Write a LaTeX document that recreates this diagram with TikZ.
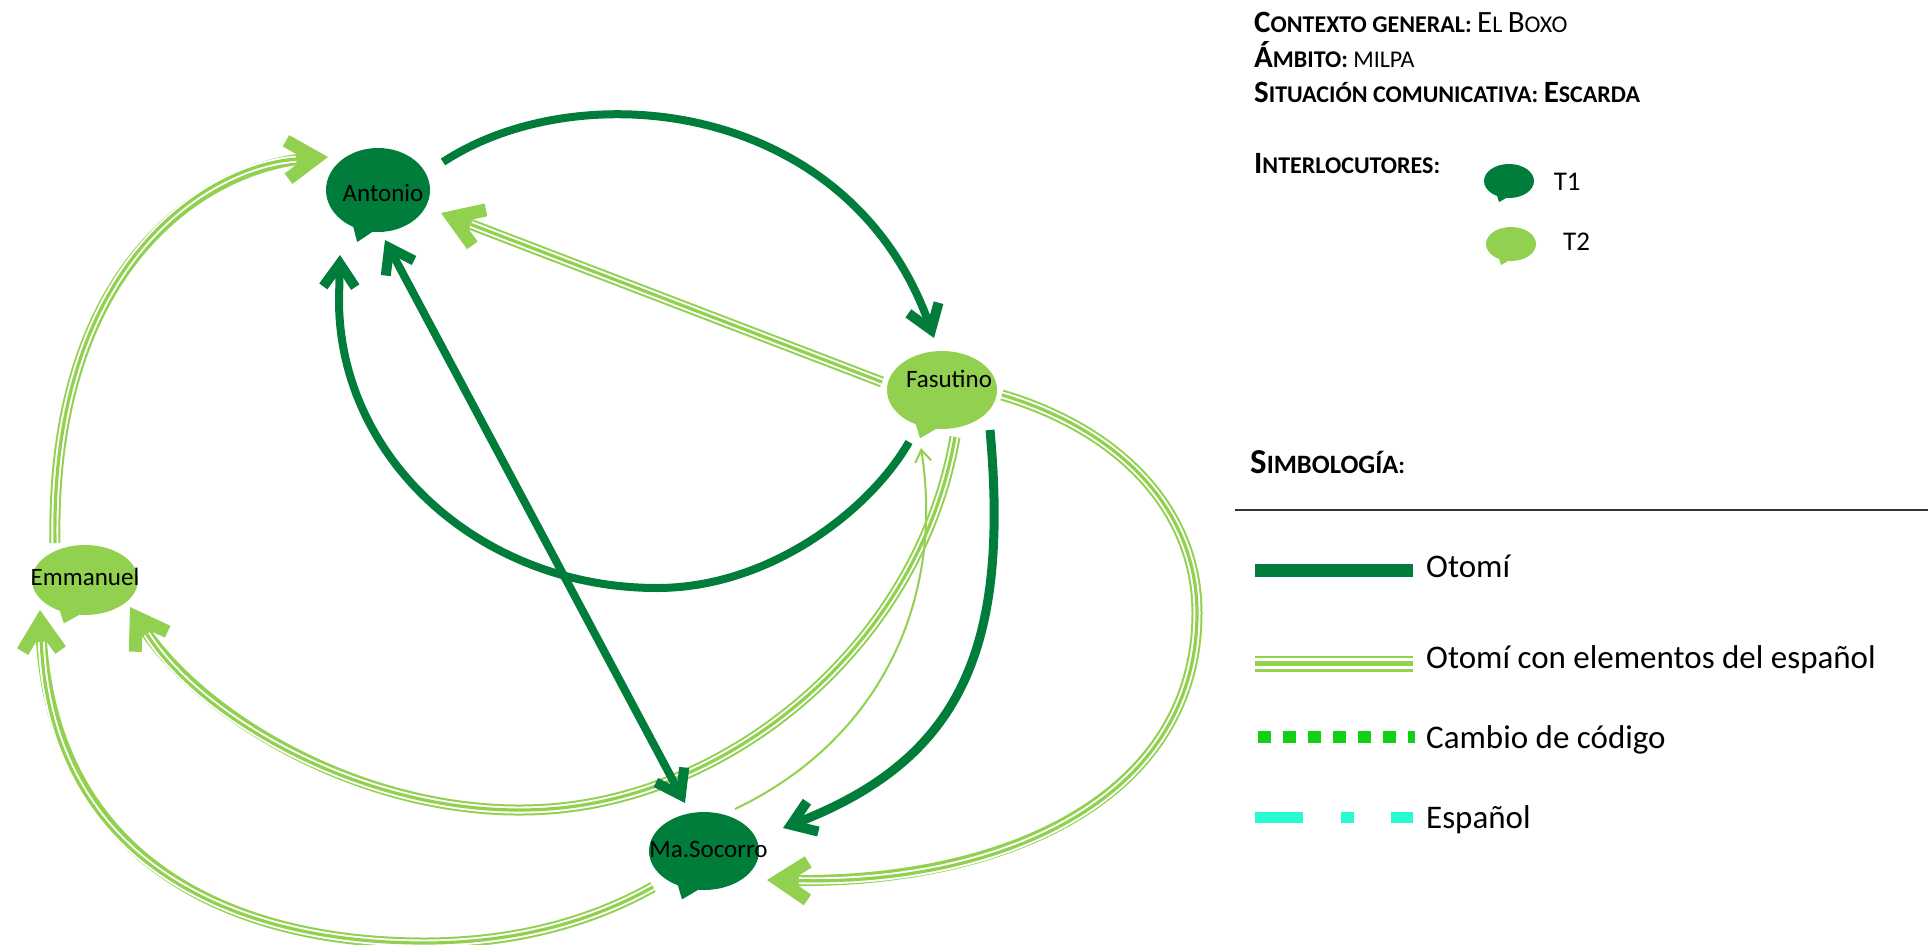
\documentclass[tikz,border=0pt]{standalone}
\usepackage{fontspec}
\setmainfont{Carlito}
\usetikzlibrary{arrows.meta,shapes.geometric,calc}

\definecolor{dkg}{RGB}{0,125,58}
\definecolor{lgr}{RGB}{146,208,80}
\definecolor{cgreen}{RGB}{20,208,20}
\definecolor{cyanesp}{RGB}{40,250,210}

% small-caps headings: large initial, reduced capitals
\newcommand\Hd[2]{{\fontsize{31pt}{36pt}\selectfont#1}{\fontsize{24pt}{36pt}\selectfont#2}}
\newcommand\Hs[2]{{\fontsize{35pt}{40pt}\selectfont#1}{\fontsize{26.5pt}{40pt}\selectfont#2}}

% speech bubble: tail triangle + filled ellipse node
\newcommand\bubble[6]{%
  \fill[#6] (#2-0.48*#4,#3+0.86*#5) -- (#2-0.40*#4,#3+1.24*#5) -- (#2-0.10*#4,#3+0.99*#5) -- cycle;
  \node[bub, fill=#6, minimum width=2*#4, minimum height=2*#5] (#1) at (#2,#3) {};
}

\tikzset{
  bub/.style={ellipse, inner sep=0pt, draw=none},
  lbl/.style={anchor=base, inner sep=0pt, font=\fontsize{25pt}{30pt}\selectfont},
  hd/.style={anchor=base west, inner sep=0pt, font=\bfseries\fontsize{24pt}{36pt}\selectfont},
  leg/.style={anchor=base west, inner sep=0pt, font=\fontsize{33pt}{38pt}\selectfont},
  tl/.style={anchor=base west, inner sep=0pt, font=\fontsize{27pt}{32pt}\selectfont},
  dtip/.tip={Straight Barb[length=23pt,width=32pt,line width=10pt]},
  ltip/.tip={Straight Barb[length=29pt,width=38pt,line width=13pt]},
  otomi/.style={draw=dkg, line width=8pt, -dtip},
  triple/.style={draw=lgr, line width=11pt, -ltip,
    postaction={draw=white, line width=7pt, arrows=-, shorten >=32pt},
    postaction={draw=lgr, line width=3.2pt, arrows=-, shorten >=32pt}},
  thinlg/.style={draw=lgr, line width=2pt, -{Straight Barb[length=12pt,width=16pt]}},
}

\begin{document}
\begin{tikzpicture}[x=1pt,y=-1pt]
\useasboundingbox (0,0) rectangle (1928,945);
\fill[white] (0,0) rectangle (1928,945);

% interlocutors
\bubble{anto}{378}{190}{52}{42}{dkg}
\bubble{fasu}{942}{390}{55}{39}{lgr}
\bubble{emma}{85}{580}{53}{35}{lgr}
\bubble{soco}{704}{851}{55}{39}{dkg}

\node[lbl] (antoT) at (383,201) {Antonio};
\node[lbl] (fasuT) at (949,387) {Fasutino};
\node[lbl] (emmaT) at (85,585) {Emmanuel};
\node[lbl] (socoT) at (708.5,857) {Ma.Socorro};

% exchanges
\draw[otomi] ($(anto)+(65,-28)$) .. controls (580,72) and (850,100) .. ($(fasu)+(-8,-52)$);
\draw[triple] ($(fasu)+(-60,-8)$) -- ($(anto)+(63,23)$);
\draw[triple] ($(emma)+(-30,-37)$) .. controls (50,260) and (210,165) .. ($(anto)+(-50,-33)$);
\draw[triple] ($(fasu)+(13,47)$) .. controls (920,640) and (740,790) .. (560,808)
   .. controls (380,826) and (200,720) .. ($(emma)+(45,27)$);
\draw[triple] ($(soco)+(-51,36)$) .. controls (580,928) and (500,943) .. (424,943)
   .. controls (230,943) and (50,860) .. ($(emma)+(-45,30)$);
\draw[triple] ($(fasu)+(60,5)$) .. controls (1120,430) and (1197,510) .. (1197,613)
   .. controls (1197,800) and (1000,885) .. ($(soco)+(63,29)$);
\draw[otomi] ($(fasu)+(-33,52)$) .. controls (870,510) and (770,588) .. (657,588)
   .. controls (481,588) and (339,459) .. (339,300) -- ($(anto)+(-38,65)$);
\draw[otomi, dtip-dtip] ($(anto)+(7,50)$) -- ($(soco)+(-19,-48)$);
\draw[otomi, line width=9pt] ($(fasu)+(48,40)$) .. controls (1010,650) and (960,760) .. ($(soco)+(79,-23)$);
\draw[thinlg] ($(soco)+(31,-42)$) .. controls (880,740) and (945,600) .. ($(fasu)+(-21,58)$);

% header
\node[hd] (ctx) at (1254,32.3) {\Hd{C}{ONTEXTO} \Hd{}{GENERAL}: \mdseries\Hd{E}{L} \Hd{B}{OXO}};
\node[hd] (amb) at (1254,67.7) {\Hd{Á}{MBITO}: \mdseries\Hd{}{MILPA}};
\node[hd] (sit) at (1254,102.7) {\Hd{S}{ITUACIÓN} \Hd{}{COMUNICATIVA}: \Hd{E}{SCARDA}};
\node[hd] (intl) at (1254,173.3) {\Hd{I}{NTERLOCUTORES}:};

\bubble{tone}{1509}{181}{25}{17}{dkg}
\bubble{ttwo}{1511}{244}{25}{17}{lgr}
\node[tl] (toneT) at (1553.6,190.7) {T1};
\node[tl] (ttwoT) at (1563,250.7) {T2};

% key
\node[hd] (simb) at (1250,473) {\Hs{S}{IMBOLOGÍA}:};
\draw[black!80, line width=2pt] (1235,510) -- (1928,510);

\draw[dkg, line width=12.7pt] (1255.4,570.3) -- (1412.5,570.3);
\node[leg] (kOto) at (1426,577) {Otomí};

\draw[lgr, line width=16pt] (1255.4,663.7) -- (1412.5,663.7);
\draw[white, line width=10.5pt] (1255.4,663.7) -- (1412.5,663.7);
\draw[lgr, line width=5.5pt] (1255.4,663.7) -- (1412.5,663.7);
\node[leg] (kMix) at (1426,668.3) {Otomí con elementos del español};

\draw[cgreen, line width=11.7pt, dash pattern=on 12.5pt off 12.5pt] (1258,736.8) -- (1414.7,736.8);
\node[leg] (kCam) at (1426,748.3) {Cambio de código};

\draw[cyanesp, line width=11.6pt, dash pattern=on 48pt off 37.6pt on 12.7pt off 37.3pt] (1255.4,817.5) -- (1412.5,817.5);
\node[leg] (kEsp) at (1426,828.3) {Español};
\end{tikzpicture}
\end{document}
